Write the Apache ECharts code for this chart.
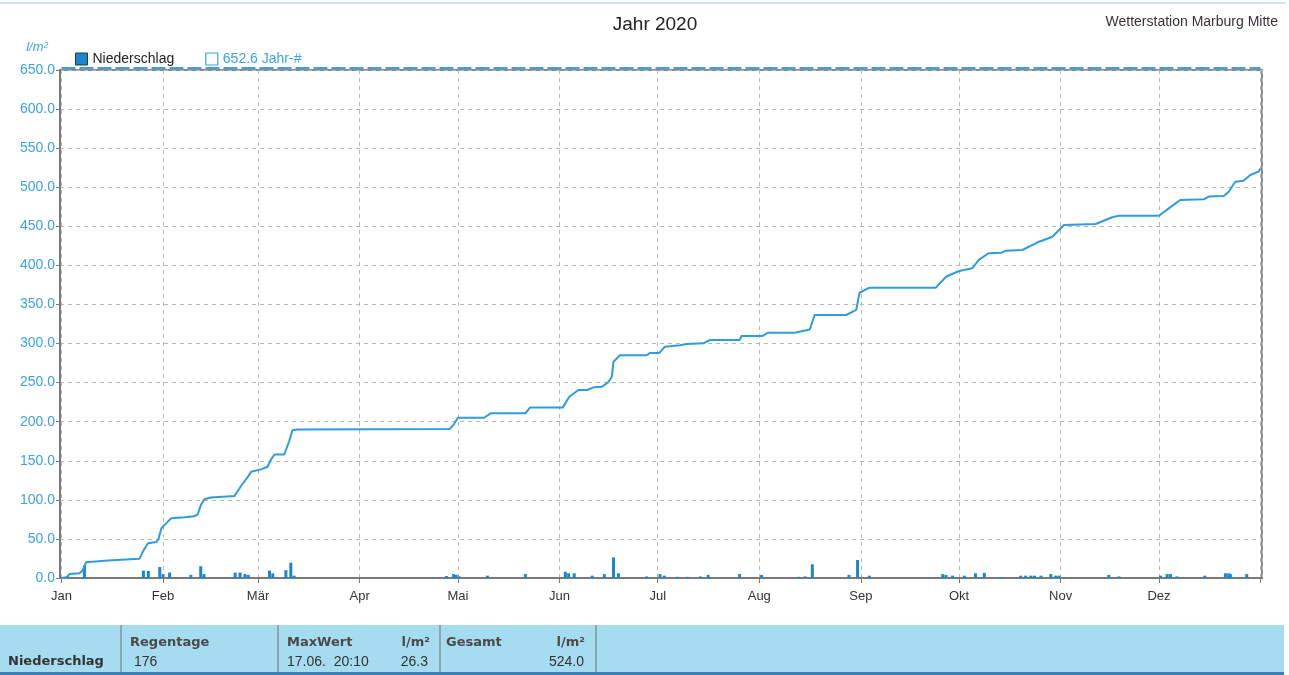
<!DOCTYPE html>
<html>
<head>
<meta charset="utf-8">
<script src="https://cdn.jsdelivr.net/npm/echarts@6/dist/echarts.min.js"></script>
<style>html,body{margin:0;padding:0;background:#fff;}#c{width:1289px;height:675px;}</style>
</head>
<body>
<div id="c"></div>
<script>
// ---- data ----
const monthNames = ['Jan','Feb','Mär','Apr','Mai','Jun','Jul','Aug','Sep','Okt','Nov','Dez'];
// cumulative precipitation: day of year (0 = 1 Jan) and value in l/m²
const cumDay = [0,1.5,2.5,5.5,6.5,7.5,8,14.2,14.8,23.8,25,26.4,29,29.6,30.5,31.5,33.5,37.5,40.5,41.6,42.5,43.6,45.6,52.8,54.8,57,57.9,60.9,62.9,64,65,68,69.5,70.5,72,118.5,119.8,121,129,131,141.6,143,153,155,157.8,160.4,162.4,165,167,168,168.5,170.5,178.6,179.7,182.5,184.2,188.8,190.8,195.9,198,207,207.6,214,215.7,223.8,228.4,229.9,239.5,242.6,243.6,246.6,266.9,270,274,278,280,283,287,288.3,293.3,298.4,302.5,306,315.7,320.7,322.8,335,338,341.5,348.7,350.2,354.8,356.3,358.3,360.8,362.9,365.4,366];
const cumVal = [0,1,5,6,10,20,22,22.5,24.3,24.5,35,44.4,46,50,63.6,68,76.4,77.7,79,81.5,93,100.7,103,105,117.7,130,136,139,142.4,152,158,158,175,189,190,190.6,197,205,205,210.7,210.7,218,218,232,240.6,240.6,244,244.8,251,257.6,276.8,285,285,288,288,296,297.8,299.4,300.3,304.5,304.5,309.7,309.7,313.9,313.9,318,336.5,336.5,343,365,371.5,371.5,385.5,392.8,396.3,407,415.5,416.3,418.8,419.7,430.3,436.7,451.7,453,461.6,463.6,463.6,473,483.7,484.6,488,488.8,494.3,507,508.4,515.7,520,524];
// daily precipitation bars
const rainDay = [2,7,25,26.5,30,31,33,39.5,42.5,43.5,53,54.5,56,57,63.5,64.5,68.5,70,71,117.5,119.7,120.5,121.5,130,141.6,153.8,154.8,156.5,162,165.7,168.5,170,178.6,182.7,184,188,191,195,197.4,207,213.7,225,227,229.2,240.4,243,246.6,269,270,272,275.6,279,281.7,287,292.8,294.3,295.9,297,299,302,303.5,304.5,319.7,322.8,335.5,337.5,338.5,340.5,349,355.3,356.3,356.8,361.8];
const rainVal = [2,16,9.5,9,14,5,7,4,15,5,7,7,5,4,9.5,6,10,19.6,3,2.5,5,4,2,3,5,8,6,6,3,5,26.3,6,2,5,3,1.5,1.5,2,4,5,4,1.5,2,17.5,4,23,3,5,4,3,3,6,6.5,1,3,3,3,3,3,5,3,3,4,2,3,5,5,2,3,6,6,5,5];
const yearAvg = 652.6;
const yMin = 0, yMax = 650, yStep = 50;
const tableHead = ['Regentage','MaxWert','l/m²','Gesamt','l/m²'];
const tableRow = ['Niederschlag','176','17.06.  20:10','26.3','524.0'];

// ---- chart ----
const DAY = 86400000;
const base = new Date(2020,0,1).getTime();
const xMax = base + 366*DAY;
const toT = d => base + d*DAY;
const lineBlue = '#2f9be0', barBlue = '#1a86cf', labBlue = '#3aa2e8';
const FONT = '"Liberation Sans", Arial, sans-serif';
const BOLD = '"DejaVu Sans", "Liberation Sans", Arial, sans-serif';

const chart = echarts.init(document.getElementById('c'));
const tableTexts = [];
const headX = [130, 287, 430, 446, 585], headAlign = ['left','left','right','left','right'];
tableHead.forEach((t,i)=>tableTexts.push({type:'text', x:headX[i], y:643, style:{text:t, font:'bold 13px '+BOLD, fill:'#4a4a4a', textAlign:headAlign[i], textVerticalAlign:'middle'}}));
const rowX = [8, 134, 287, 428, 584], rowAlign = ['left','left','left','right','right'];
tableRow.forEach((t,i)=>tableTexts.push({type:'text', x:rowX[i], y:662, style:{text:t, font:(i===0?'bold 13px '+BOLD:'14px '+FONT), fill:'#333', textAlign:rowAlign[i], textVerticalAlign:'middle'}}));

chart.setOption({
  animation:false,
  backgroundColor:'#fff',
  grid:{left:60, right:27, top:70, bottom:97, show:true, borderColor:'#8a8a8a', borderWidth:2, backgroundColor:'transparent'},
  legend:{
    left:70, top:47, itemWidth:12, itemHeight:12, itemGap:31, selectedMode:false,
    textStyle:{fontFamily:FONT, fontSize:14},
    data:[
      {name:'Niederschlag', icon:'rect', itemStyle:{color:barBlue, borderColor:'#333', borderWidth:1}, textStyle:{color:'#222'}},
      {name:yearAvg.toFixed(1)+' Jahr-#', icon:'rect', itemStyle:{color:'#fff', borderColor:labBlue, borderWidth:1.2}, lineStyle:{opacity:0}, textStyle:{color:labBlue}}
    ]
  },
  xAxis:{
    type:'time', min:base, max:xMax, splitNumber:12,
    axisLine:{show:true, lineStyle:{color:'#7a7a7a', width:2}},
    axisTick:{show:true, length:5, lineStyle:{color:'#777'}},
    axisLabel:{color:'#333', fontFamily:FONT, fontSize:13, margin:12, hideOverlap:false,
      formatter:v=>{const d=new Date(v); return d.getFullYear()===2020 ? monthNames[d.getMonth()] : '';}},
    splitLine:{show:true, lineStyle:{color:'#b8b8b8', type:[4,4], width:1}},
    minorTick:{show:false}
  },
  yAxis:{
    type:'value', min:yMin, max:yMax, interval:yStep,
    axisLine:{show:true, lineStyle:{color:'#7a7a7a', width:2}},
    axisTick:{show:true, length:4, lineStyle:{color:'#777'}},
    axisLabel:{color:labBlue, fontFamily:FONT, fontSize:14, margin:5, formatter:v=>v.toFixed(1)},
    splitLine:{show:true, lineStyle:{color:'#b8b8b8', type:[4,4], width:1}}
  },
  series:[
    {name:'Niederschlag', type:'bar', barWidth:3, itemStyle:{color:barBlue},
      data:rainDay.map((d,i)=>[toT(d), rainVal[i]]), z:3},
    {name:'Niederschlag', type:'line', showSymbol:false, symbol:'none', lineStyle:{color:lineBlue, width:2}, itemStyle:{color:lineBlue},
      data:cumDay.map((d,i)=>[toT(d), cumVal[i]]), z:4},
    {name:yearAvg.toFixed(1)+' Jahr-#', type:'line', showSymbol:false, symbol:'none', clip:false,
      lineStyle:{color:labBlue, width:2, type:[14,4]}, itemStyle:{color:labBlue},
      data:[[base, yearAvg],[xMax, yearAvg]], z:5}
  ],
  graphic:[
    {type:'line', shape:{x1:0,y1:3,x2:1286,y2:3}, style:{stroke:'#c8eaf4', lineWidth:2}},
    {type:'text', x:655, y:25, style:{text:'Jahr 2020', font:'19px '+FONT, fill:'#222', textAlign:'center', textVerticalAlign:'middle'}},
    {type:'text', x:1278, y:22, style:{text:'Wetterstation Marburg Mitte', font:'14px '+FONT, fill:'#3a3038', textAlign:'right', textVerticalAlign:'middle'}},
    {type:'text', x:37, y:47, style:{text:'l/m²', font:'italic 13px '+FONT, fill:labBlue, textAlign:'center', textVerticalAlign:'middle'}},
    {type:'rect', shape:{x:0,y:625,width:1284,height:50}, style:{fill:'#a6dcf0'}, z:0},
    {type:'rect', shape:{x:0,y:672,width:1284,height:3}, style:{fill:'#3f7fb8'}},
    {type:'line', shape:{x1:121,y1:625,x2:121,y2:672}, style:{stroke:'#8aa6b0', lineWidth:2}},
    {type:'line', shape:{x1:278,y1:625,x2:278,y2:672}, style:{stroke:'#8aa6b0', lineWidth:2}},
    {type:'line', shape:{x1:440,y1:625,x2:440,y2:672}, style:{stroke:'#8aa6b0', lineWidth:2}},
    {type:'line', shape:{x1:596,y1:625,x2:596,y2:672}, style:{stroke:'#8aa6b0', lineWidth:2}}
  ].concat(tableTexts)
});
</script>
</body>
</html>
